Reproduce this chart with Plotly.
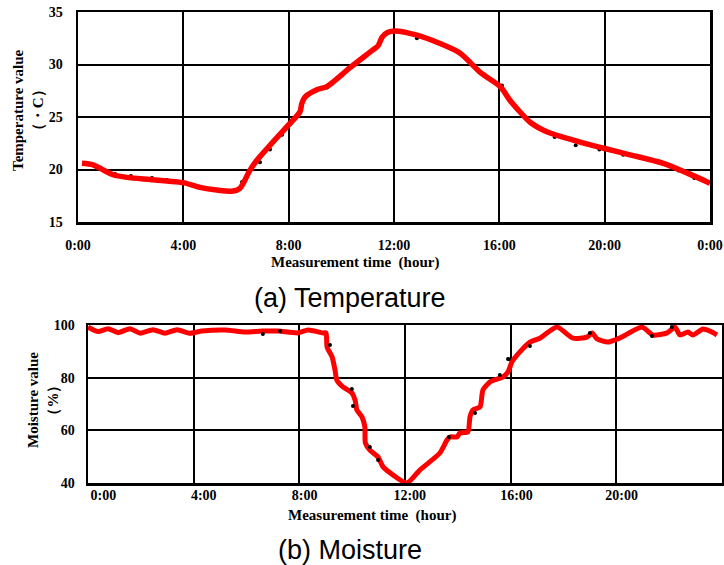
import plotly.graph_objects as go

W, H = 724, 565

# ---------------- data ----------------
temp_hours = [0.15, 0.57, 1.0, 1.33, 1.86, 2.73, 3.38, 4.0, 4.63, 5.27, 5.9, 6.15, 6.3, 6.5, 6.8,
              7.29, 7.98, 8.43, 8.5, 8.62, 9.07, 9.45, 10.33, 11.2, 11.4, 11.55, 11.75, 12.05, 12.87,
              13.75, 14.5, 15.3, 16.03, 16.4, 16.67, 17.17, 17.8, 18.8, 20.0, 20.96, 22.2, 23.1, 24.0]
temp_values = [20.6, 20.45, 19.9, 19.5, 19.25, 19.05, 18.9, 18.75, 18.3, 18.05, 17.95, 18.2, 18.8, 19.8, 20.9,
               22.3, 24.2, 25.5, 26.3, 26.9, 27.6, 27.9, 29.7, 31.4, 31.8, 32.6, 33.05, 33.2, 32.8,
               32.0, 31.1, 29.2, 27.9, 26.6, 25.8, 24.5, 23.6, 22.8, 22.0, 21.4, 20.6, 19.7, 18.7]

temp_dot_hours = [1.41, 2.01, 2.81, 3.38, 6.23, 6.91, 7.29, 7.75, 8.43, 9.46, 11.28, 12.87, 14.51,
                  16.1, 16.6, 18.1, 18.9, 19.8, 20.7, 22.8, 23.4]
temp_dot_values = [19.57, 19.38, 19.19, 19.0, 18.8, 20.7, 21.9, 23.3, 25.4, 27.8, 31.5, 32.5, 31.1,
                   28.0, 26.0, 23.1, 22.3, 21.9, 21.4, 19.9, 19.2]

moist_hours = [0.0, 0.38, 0.76, 1.14, 1.59, 1.97, 2.46, 2.91, 3.37, 3.86, 4.31, 5.19, 5.94, 6.59, 7.19,
               7.95, 8.33, 8.89, 9.01, 9.05, 9.24, 9.35, 9.42, 9.65, 9.99, 10.11, 10.18, 10.37, 10.48,
               10.5, 10.67, 10.98, 11.17, 11.54, 12.07, 12.57, 13.32, 13.59, 13.7, 13.97, 14.08, 14.38,
               14.46, 14.57, 14.84, 14.95, 15.22, 15.71, 15.9, 16.05, 16.35, 16.73, 17.11, 17.75, 18.36,
               18.89, 19.08, 19.27, 19.68, 20.14, 20.97, 21.39, 21.92, 22.22, 22.41, 22.71, 22.9, 23.28,
               23.54, 23.81]
moist_values = [99.2, 97.5, 98.6, 97.1, 98.6, 96.9, 98.2, 96.9, 98.2, 96.9, 97.7, 98.1, 97.3, 97.7, 97.7,
                97.0, 98.1, 97.0, 97.0, 91.6, 87.9, 82.9, 79.1, 76.5, 74.2, 71.5, 67.7, 65.1, 61.3,
                55.2, 52.5, 49.9, 46.1, 43.1, 40.0, 45.0, 51.4, 56.3, 57.5, 57.5, 59.0, 59.4,
                65.1, 67.7, 68.9, 75.3, 78.4, 80.3, 82.2, 86.0, 89.8, 93.5, 95.0, 99.2, 95.0,
                95.4, 97.0, 94.7, 93.5, 95.1, 99.2, 96.2, 97.0, 99.2, 96.2, 97.3, 96.2, 98.5,
                97.7, 96.2]

moist_dot_hours = [6.62, 7.27, 9.16, 9.99, 10.03, 10.67, 10.98, 13.66, 14.65, 15.59, 15.9, 15.93,
                   16.73, 19.0, 21.35, 22.1]
moist_dot_values = [96.6, 97.7, 92.4, 75.7, 69.2, 53.7, 48.7, 57.5, 66.6, 81.0, 87.1, 87.0,
                    92.0, 97.0, 95.8, 99.2]

temp_ticks = [0, 4, 8, 12, 16, 20, 24]
temp_tick_text = ["0:00", "4:00", "8:00", "12:00", "16:00", "20:00", "0:00"]
moist_grid_ticks = [0, 4, 8, 12, 16, 20, 24]
moist_label_ticks = [0.58, 4.38, 8.2, 12.18, 16.22, 20.2]
moist_tick_text = ["0:00", "4:00", "8:00", "12:00", "16:00", "20:00"]
temp_yticks = [15, 20, 25, 30, 35]
moist_yticks = [40, 60, 80, 100]


# screen pixel -> paper fraction
def fx(px):
    return px / W


def fy(py):
    return 1 - py / H


# ---------------- figure ----------------
RED = "#ff0000"
SERIF = "Liberation Serif, Times New Roman, serif"
serif = dict(family=SERIF, size=14, color="black", weight="bold")


def bold(labels):
    return ["<b>%s</b>" % t for t in labels]


fig = go.Figure()
fig.add_trace(go.Scatter(x=temp_dot_hours, y=temp_dot_values, mode="markers",
                         marker=dict(color="black", size=4), xaxis="x", yaxis="y", showlegend=False))
fig.add_trace(go.Scatter(x=temp_hours, y=temp_values, mode="lines",
                         line=dict(color=RED, width=5.5, shape="spline", smoothing=0.8),
                         xaxis="x", yaxis="y", showlegend=False))
fig.add_trace(go.Scatter(x=moist_dot_hours, y=moist_dot_values, mode="markers",
                         marker=dict(color="black", size=4), xaxis="x3", yaxis="y2", showlegend=False))
fig.add_trace(go.Scatter(x=moist_hours, y=moist_values, mode="lines",
                         line=dict(color=RED, width=5, shape="spline", smoothing=0.6),
                         xaxis="x2", yaxis="y2", showlegend=False))

axis_common = dict(showgrid=True, gridcolor="black", gridwidth=2, showline=True, linecolor="black",
                   linewidth=2.5, mirror=True, zeroline=False, ticks="", tickfont=serif, fixedrange=True,
                   ticklabeloverflow="allow")

fig.update_layout(
    width=W, height=H, margin=dict(l=0, r=0, t=0, b=0, autoexpand=False),
    paper_bgcolor="white", plot_bgcolor="white", hovermode=False,
    xaxis=dict(domain=[fx(78), fx(710)], range=[0, 24], tickmode="array", tickvals=temp_ticks,
               ticktext=bold(temp_tick_text), anchor="y", ticklabelstandoff=9, **axis_common),
    yaxis=dict(domain=[fy(222), fy(12)], range=[15, 35], tickmode="array", tickvals=temp_yticks,
               ticktext=bold([str(v) for v in temp_yticks]), anchor="x", ticklabelstandoff=10, **axis_common),
    xaxis2=dict(domain=[fx(88), fx(722)], range=[0, 24], tickmode="array", tickvals=moist_grid_ticks,
                showticklabels=False, anchor="y2", **axis_common),
    xaxis3=dict(domain=[fx(88), fx(722)], range=[0, 24], tickmode="array", tickvals=moist_label_ticks,
                ticktext=bold(moist_tick_text), overlaying="x2", anchor="y2", side="bottom", showgrid=False,
                showline=False, zeroline=False, ticks="", tickfont=serif, ticklabelstandoff=2, fixedrange=True,
                ticklabeloverflow="allow"),
    yaxis2=dict(domain=[fy(483), fy(325)], range=[40, 100], tickmode="array", tickvals=moist_yticks,
                ticktext=bold([str(v) for v in moist_yticks]), anchor="x2", ticklabelstandoff=8, **axis_common),
)

title_font = dict(family=SERIF, size=15, color="black")
cap_font = dict(family="Liberation Sans, Arial, sans-serif", size=27, color="black")

annotations = [
    dict(text="<b>Measurement time\u00a0 (hour)</b>", x=fx(355), y=fy(263), font=title_font),
    dict(text="<b>Temperature value<br>（・C）</b>", x=fx(28), y=fy(110), textangle=-90, font=title_font),
    dict(text="(a) Temperature", x=fx(350), y=fy(298), font=cap_font),
    dict(text="<b>Measurement time\u00a0 (hour)</b>", x=fx(372), y=fy(515), font=title_font),
    dict(text="<b>Moisture value<br>（%）</b>", x=fx(43), y=fy(400), textangle=-90, font=title_font),
    dict(text="(b) Moisture", x=fx(350), y=fy(550), font=cap_font),
]
for a in annotations:
    fig.add_annotation(xref="paper", yref="paper", showarrow=False, xanchor="center", yanchor="middle", **a)

fig.write_html("out.html", config={"displayModeBar": False, "staticPlot": True},
               post_script="document.body.style.margin='0';document.body.style.overflow='hidden';")
